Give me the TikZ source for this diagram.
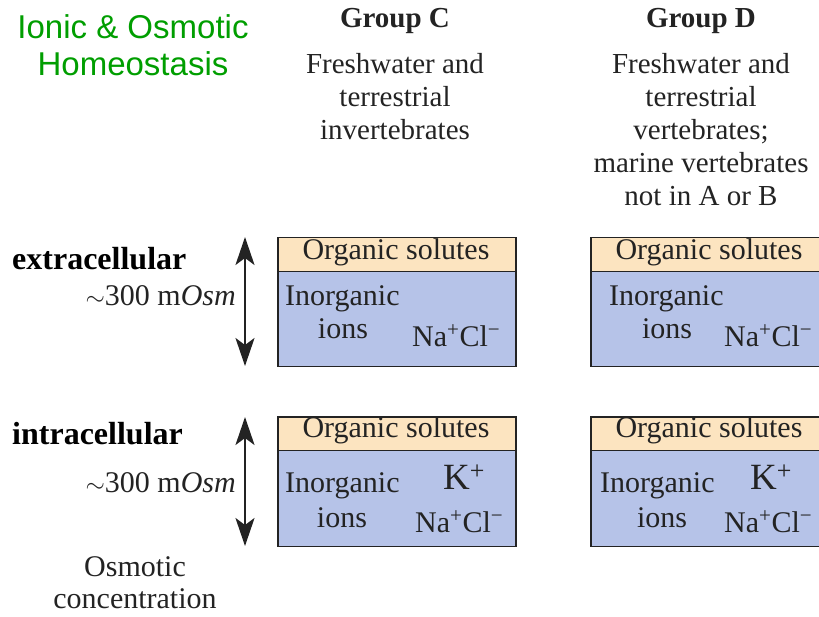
\documentclass[tikz,border=0pt]{standalone}
\usepackage{fontspec}
\setmainfont{Liberation Serif}
\newfontfamily\titlefont{Liberation Sans}
\usetikzlibrary{arrows.meta}
\definecolor{peach}{RGB}{252,228,192}
\definecolor{boxblue}{RGB}{182,195,232}
\definecolor{titlegreen}{RGB}{0,158,0}
\definecolor{ink}{RGB}{35,35,35}
\begin{document}
\begin{tikzpicture}[x=1pt,y=-1pt,
  hdr/.style={draw=ink, line width=1.5pt, fill=peach, minimum width=238pt, minimum height=34pt, inner sep=0pt, anchor=north west},
  bodybox/.style={draw=ink, line width=1.5pt, fill=boxblue, minimum width=238pt, minimum height=96pt, inner sep=0pt, anchor=north west},
  txt/.style={font=\fontsize{30}{33}\selectfont, inner sep=0pt, text=ink},
  head/.style={font=\fontsize{29}{33}\selectfont, inner sep=0pt, text=ink, anchor=base},
  bighead/.style={font=\fontsize{29}{33}\selectfont\bfseries, inner sep=0pt, text=ink, anchor=base},
  side/.style={font=\fontsize{32}{36}\selectfont\bfseries, inner sep=0pt, text=black, anchor=base west},
  ttl/.style={font=\fontsize{33}{37}\selectfont\titlefont, inner sep=0pt, text=titlegreen, anchor=base},
  dbl/.style={{Stealth[length=28pt,width=19pt,inset=7pt]}-{Stealth[length=28pt,width=19pt,inset=7pt]}, line width=2.5pt, draw=ink}]
\useasboundingbox (0,0) rectangle (819,616);
\clip (0,0) rectangle (819,616);

% title
\node[ttl] (t1) at (133,38) {Ionic \& Osmotic};
\node[ttl] (t2) at (133,75) {Homeostasis};

% group headings
\node[bighead] (gc) at (395,27) {Group C};
\node[bighead] (gd) at (701,27) {Group D};
\node[head] (c1) at (395,73) {Freshwater and};
\node[head] (c2) at (395,106) {terrestrial};
\node[head] (c3) at (395,139) {invertebrates};
\node[head] (d1) at (701,73) {Freshwater and};
\node[head] (d2) at (701,106) {terrestrial};
\node[head] (d3) at (701,139) {vertebrates;};
\node[head] (d4) at (701,172) {marine vertebrates};
\node[head] (d5) at (701,205) {not in A or B};

% side labels
\node[side] (ext) at (12,269) {extracellular};
\node[side] (int) at (12,444) {intracellular};
\node[txt, anchor=base east] (o1) at (236,305) {$\sim$300 m\textit{Osm}};
\node[txt, anchor=base east] (o2) at (236,492) {$\sim$300 m\textit{Osm}};
\node[txt, anchor=base] (oc1) at (135,576) {Osmotic};
\node[txt, anchor=base] (oc2) at (135,608) {concentration};

% arrows
\coordinate (ua) at (245,237);
\coordinate (ub) at (245,366);
\coordinate (la) at (245,417);
\coordinate (lb) at (245,546);
\draw[dbl] (ua) -- (ub);
\draw[dbl] (la) -- (lb);

% Group C extracellular
\node[bodybox, minimum height=95pt] (cub) at (277,270.7) {};
\node[hdr] (cuh) at (277,236.7) {};
\node[txt, anchor=base] (cuo) at (396,259) {Organic solutes};
\node[txt, anchor=base west] (cui) at (285,305) {Inorganic};
\node[txt, anchor=base] (cuions) at (343,338) {ions};
\node[txt, anchor=base west] (cun) at (412,346) {Na\textsuperscript{+}Cl\textsuperscript{−}};

% Group C intracellular
\node[bodybox] (clb) at (277,449.5) {};
\node[hdr, minimum height=33.5pt] (clh) at (277,416) {};
\node[txt, anchor=base] (clo) at (396,437) {Organic solutes};
\node[txt, anchor=base west] (cli) at (285,492) {Inorganic};
\node[txt, anchor=base] (clions) at (342,527) {ions};
\node[txt, anchor=base west, font=\fontsize{37}{40}\selectfont] (clk) at (443,489) {K\textsuperscript{+}};
\node[txt, anchor=base west] (cln) at (415,532) {Na\textsuperscript{+}Cl\textsuperscript{−}};

% Group D extracellular
\node[bodybox, minimum height=95pt] (dub) at (590,270.7) {};
\node[hdr] (duh) at (590,236.7) {};
\node[txt, anchor=base] (duo) at (709,259) {Organic solutes};
\node[txt, anchor=base west] (dui) at (609,305) {Inorganic};
\node[txt, anchor=base] (duions) at (667,338) {ions};
\node[txt, anchor=base west] (dun) at (724,346) {Na\textsuperscript{+}Cl\textsuperscript{−}};

% Group D intracellular
\node[bodybox] (dlb) at (590,449.5) {};
\node[hdr, minimum height=33.5pt] (dlh) at (590,416) {};
\node[txt, anchor=base] (dlo) at (709,437) {Organic solutes};
\node[txt, anchor=base west] (dli) at (600,492) {Inorganic};
\node[txt, anchor=base] (dlions) at (662,527) {ions};
\node[txt, anchor=base west, font=\fontsize{37}{40}\selectfont] (dlk) at (750,489) {K\textsuperscript{+}};
\node[txt, anchor=base west] (dln) at (724,532) {Na\textsuperscript{+}Cl\textsuperscript{−}};
\end{tikzpicture}
\end{document}
